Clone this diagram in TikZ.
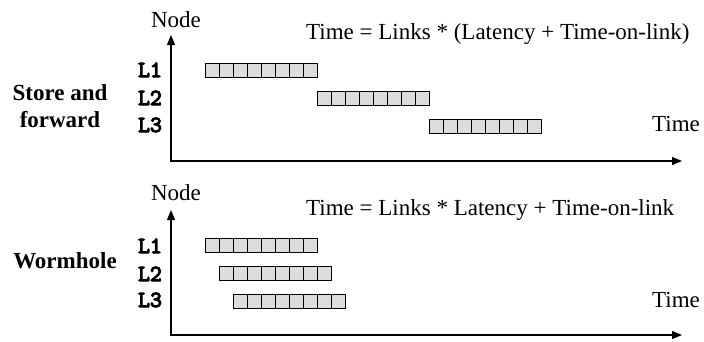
\documentclass[tikz,border=0pt]{standalone}
\usepackage{fontspec}
\setmainfont{Liberation Serif}
\newfontfamily\lblfont[FakeBold=5]{Latin Modern Mono}
\usetikzlibrary{arrows.meta}
\definecolor{cellgray}{HTML}{DCDCDC}
\tikzset{
  txt/.style={inner sep=0pt, font=\fontsize{23}{27}\selectfont},
  btxt/.style={inner sep=0pt, align=center, font=\fontsize{23}{27}\selectfont\bfseries},
  lbl/.style={inner sep=0pt, font=\fontsize{23}{25}\selectfont\lblfont},
  cell/.style={draw=black, line width=0.9pt, fill=cellgray, minimum size=14pt, inner sep=0pt, anchor=north west, outer sep=0pt},
  axis/.style={line width=1.2pt, {Triangle[length=10pt,width=8pt]}-{Triangle[length=10pt,width=8pt]}}
}
\begin{document}
\begin{tikzpicture}[x=1pt,y=-1pt]
\useasboundingbox (0,0) rectangle (704,341);
% ---------- top panel ----------
\coordinate (ytop1) at (171,35);
\coordinate (xend1) at (682,161);
\draw[axis] (ytop1) |- (xend1);
\node[txt, anchor=base] (node1) at (176,27) {Node};
\node[txt, anchor=base west] (title1) at (306,39) {Time = Links * (Latency + Time-on-link)};
\node[txt, anchor=base west] (time1) at (652,131) {Time};
\node[lbl, anchor=base] (l11) at (150,77) {L1};
\node[lbl, anchor=base] (l12) at (150,105) {L2};
\node[lbl, anchor=base] (l13) at (150,132) {L3};
\node[btxt, anchor=base] (saf) at (60,100) {Store and};
\node[btxt, anchor=base] (saf2) at (60,127) {forward};
\foreach \i in {0,...,7} {
  \node[cell] (a1c\i) at (205+14*\i,63) {};
  \node[cell] (a2c\i) at (317+14*\i,91) {};
  \node[cell] (a3c\i) at (429+14*\i,119) {};
}
% ---------- bottom panel ----------
\coordinate (ytop2) at (171,210);
\coordinate (xend2) at (682,335);
\draw[axis] (ytop2) |- (xend2);
\node[txt, anchor=base] (node2) at (176,200) {Node};
\node[txt, anchor=base west] (title2) at (306,215) {Time = Links * Latency + Time-on-link};
\node[txt, anchor=base west] (time2) at (652,307) {Time};
\node[lbl, anchor=base] (l21) at (150,253) {L1};
\node[lbl, anchor=base] (l22) at (150,281) {L2};
\node[lbl, anchor=base] (l23) at (150,307) {L3};
\node[btxt, anchor=base] (worm) at (65,268) {Wormhole};
\foreach \i in {0,...,7} {
  \node[cell] (b1c\i) at (205+14*\i,238) {};
  \node[cell] (b2c\i) at (219+14*\i,266) {};
  \node[cell] (b3c\i) at (233+14*\i,294) {};
}
\end{tikzpicture}
\end{document}
